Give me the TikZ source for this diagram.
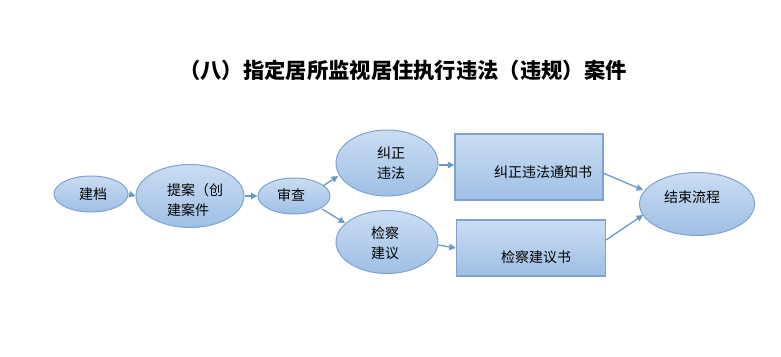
\documentclass[tikz,border=0pt]{standalone}
\usepackage{fontspec}
\setmainfont{Noto Sans CJK SC}
\usetikzlibrary{shapes.geometric,arrows.meta,calc}
\definecolor{edge}{HTML}{7FA3CF}
\definecolor{topc}{HTML}{CADDF3}
\definecolor{botc}{HTML}{9FBFE5}
\definecolor{arr}{HTML}{6F97C9}
\tikzset{
  oval/.style={ellipse, draw=edge, line width=1pt, top color=topc, bottom color=botc, inner sep=0pt},
  boxn/.style={rectangle, draw=edge, line width=1.4pt, top color=topc, bottom color=botc, inner sep=0pt},
  lbl/.style={font=\fontsize{14pt}{20pt}\selectfont, inner sep=0pt, align=left},
  conn/.style={draw=arr, line width=1.3pt, -{Triangle[length=6.5pt,width=6.5pt]}}
}
\begin{document}
\begin{tikzpicture}[x=1pt,y=-1pt]
\useasboundingbox (0,0) rectangle (781,356);
\node[font=\fontsize{21.3pt}{24pt}\selectfont\bfseries, inner sep=0pt] (title) at (403,70) {（八）指定居所监视居住执行违法（违规）案件};

\node[oval, minimum width=74pt, minimum height=36pt] (a) at (91,194) {};
\node[lbl] (ta) at (93,194) {建档};
\node[oval, minimum width=108pt, minimum height=63pt] (b) at (190,196) {};
\node[lbl] (tb) at (195,200) {提案（创\\建案件};
\node[oval, minimum width=72pt, minimum height=36pt] (c) at (294,196) {};
\node[lbl] (tc) at (291,195) {审查};
\node[oval, minimum width=102pt, minimum height=66pt] (d) at (387,163) {};
\node[lbl] (td) at (391,163) {纠正\\违法};
\node[oval, minimum width=102pt, minimum height=63pt] (e) at (387,242) {};
\node[lbl] (te) at (385,243) {检察\\建议};
\node[boxn, minimum width=148pt, minimum height=66pt] (f) at (529,167) {};
\node[lbl] (tf) at (543,172) {纠正违法通知书};
\node[boxn, minimum width=149pt, minimum height=56pt] (g) at (531,248) {};
\node[lbl] (tg) at (536,257) {检察建议书};
\node[oval, minimum width=115pt, minimum height=63pt] (h) at (697,204) {};
\node[lbl] (th) at (692,197) {结束流程};

\draw[conn] (a.east) -- (b.west);
\draw[conn] (b.east) -- (c.west);
\draw[conn] ($(c)+(29,-10)$) -- ($(d)+(-49,13)$);
\draw[conn] ($(c)+(28,13)$) -- ($(e)+(-42,-19)$);
\draw[conn] ($(d.east)+(0,2)$) -- ($(f.west)+(0,-2)$);
\draw[conn] ($(e.east)+(0,3)$) -- ($(g.west)+(0,0)$);
\draw[conn] ($(f)+(74,6)$) -- ($(h)+(-54,-14)$);
\draw[conn] ($(g)+(75,-8)$) -- ($(h)+(-54,11)$);
\end{tikzpicture}
\end{document}
